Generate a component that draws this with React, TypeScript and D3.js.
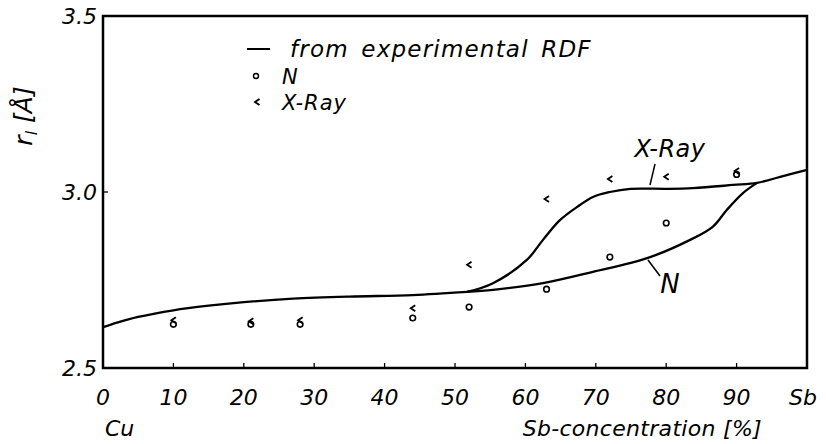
import React from "react";
import * as d3 from "d3";

// ---- data (Sb concentration %, r1 in Å) ----
const xTickValues = [0, 10, 20, 30, 40, 50, 60, 70, 80, 90, 100];
const xTickLabels = ["0", "10", "20", "30", "40", "50", "60", "70", "80", "90", "Sb"];
const yTickValues = [2.5, 3.0, 3.5];
const yTickLabels = ["2.5", "3.0", "3.5"];

// common branch of the RDF curve (0 .. ~52 %)
const commonX = [0, 2, 5, 10, 15, 20, 27, 35, 44, 51.7];
const commonY = [2.616, 2.629, 2.645, 2.664, 2.677, 2.687, 2.697, 2.703, 2.707, 2.716];

// X-Ray branch (upper)
const xrayCurveX = [51.7, 55.4, 60.2, 62.5, 64.9, 67.3, 69.6, 72, 74.9, 80.1, 83.8, 89.5, 92.9, 96.2, 100];
const xrayCurveY = [2.716, 2.741, 2.807, 2.864, 2.92, 2.957, 2.986, 3.0, 3.009, 3.009, 3.011, 3.02, 3.026, 3.043, 3.063];

// N branch (lower)
const nCurveX = [51.7, 55.4, 62.5, 69.6, 77.3, 83.4, 86.6, 88.6, 90.9, 92.9];
const nCurveY = [2.716, 2.722, 2.741, 2.773, 2.812, 2.864, 2.901, 2.949, 2.997, 3.026];

// measured points
const nPointX = [10, 21, 28, 44, 52, 63, 72, 80, 90];
const nPointY = [2.624, 2.624, 2.624, 2.642, 2.673, 2.724, 2.815, 2.912, 3.05];
const xrayPointX = [10, 21, 28, 44, 52, 63, 72, 80, 90];
const xrayPointY = [2.636, 2.633, 2.636, 2.670, 2.793, 2.980, 3.037, 3.043, 3.06];

const W = 826;
const H = 444;
const M = { left: 103, right: 807, top: 16, bottom: 368 };
const FONT = "'DejaVu Sans', sans-serif";

export default function App() {
  const x = d3.scaleLinear().domain([0, 100]).range([M.left, M.right]);
  const y = d3.scaleLinear().domain([2.5, 3.5]).range([M.bottom, M.top]);

  const line = d3
    .line<[number, number]>()
    .x((d) => x(d[0]))
    .y((d) => y(d[1]))
    .curve(d3.curveCatmullRom.alpha(0.5));

  const zip = (a: number[], b: number[]) => a.map((v, i) => [v, b[i]] as [number, number]);

  const chevron = (cx: number, cy: number, key: string) => (
    <path
      key={key}
      d={`M${cx + 2.5},${cy - 3} L${cx - 2},${cy} L${cx + 2.5},${cy + 3}`}
      fill="none"
      stroke="#000"
      strokeWidth={1.8}
    />
  );

  const txt = { fontFamily: FONT, fontStyle: "italic", fill: "#000" } as const;

  return (
    <svg
      width={W}
      height={H}
      style={{ position: "absolute", left: 0, top: 0, background: "#fff" }}
    >
      {/* frame */}
      <rect
        x={M.left}
        y={M.top}
        width={M.right - M.left}
        height={M.bottom - M.top}
        fill="none"
        stroke="#000"
        strokeWidth={2.5}
      />
      {/* x ticks */}
      {xTickValues.map((v) => (
        <line key={"xt" + v} x1={x(v)} x2={x(v)} y1={M.bottom} y2={M.bottom - 5} stroke="#000" strokeWidth={1.3} />
      ))}
      {xTickValues.map((v, i) => (
        <text key={"xl" + v} x={x(v) + (i === 10 ? -4 : 0)} y={405} textAnchor="middle" fontSize={22} {...txt}>
          {xTickLabels[i]}
        </text>
      ))}
      {/* y ticks */}
      {yTickValues.map((v, i) => (
        <g key={"yt" + v}>
          <line x1={M.left} x2={M.left + 5} y1={y(v)} y2={y(v)} stroke="#000" strokeWidth={1.3} />
          <text x={M.left - 6} y={y(v) + 8} textAnchor="end" fontSize={22} {...txt}>
            {yTickLabels[i]}
          </text>
        </g>
      ))}
      {/* axis titles */}
      <text x={105} y={436} fontSize={22} {...txt}>Cu</text>
      <text x={762} y={436} textAnchor="end" fontSize={22} letterSpacing={0.3} {...txt}>Sb-concentration [%]</text>
      <text transform="translate(32,116) rotate(-90)" textAnchor="middle" fontSize={25} {...txt}>
        r<tspan fontSize={16} dy={5}>l</tspan>
        <tspan dy={-5}> [Å]</tspan>
      </text>

      {/* curves */}
      <path d={line(zip(commonX, commonY)) || ""} fill="none" stroke="#000" strokeWidth={2.3} />
      <path d={line(zip(xrayCurveX, xrayCurveY)) || ""} fill="none" stroke="#000" strokeWidth={2.3} />
      <path d={line(zip(nCurveX, nCurveY)) || ""} fill="none" stroke="#000" strokeWidth={2.3} />

      {/* points */}
      {nPointX.map((v, i) => (
        <circle key={"np" + i} cx={x(v)} cy={y(nPointY[i])} r={2.8} fill="none" stroke="#000" strokeWidth={1.6} />
      ))}
      {xrayPointX.map((v, i) => chevron(x(v), y(xrayPointY[i]), "xp" + i))}

      {/* curve labels */}
      <text x={670} y={157} textAnchor="middle" fontSize={24} letterSpacing={0.5} {...txt}>X-Ray</text>
      <line x1={655} y1={164} x2={650} y2={185} stroke="#000" strokeWidth={1.5} />
      <text x={670} y={293} textAnchor="middle" fontSize={26} {...txt}>N</text>
      <line x1={648} y1={260} x2={660} y2={276} stroke="#000" strokeWidth={1.5} />

      {/* legend */}
      <line x1={247} x2={270} y1={49} y2={49} stroke="#000" strokeWidth={2} />
      <text x={290} y={57} fontSize={23} letterSpacing={1.2} wordSpacing={4} {...txt}>from experimental RDF</text>
      <circle cx={256} cy={76} r={2.5} fill="none" stroke="#000" strokeWidth={1.4} />
      <text x={282} y={84} fontSize={21} {...txt}>N</text>
      {chevron(257, 102, "lg")}
      <text x={282} y={110} fontSize={21} letterSpacing={1} {...txt}>X-Ray</text>
    </svg>
  );
}
